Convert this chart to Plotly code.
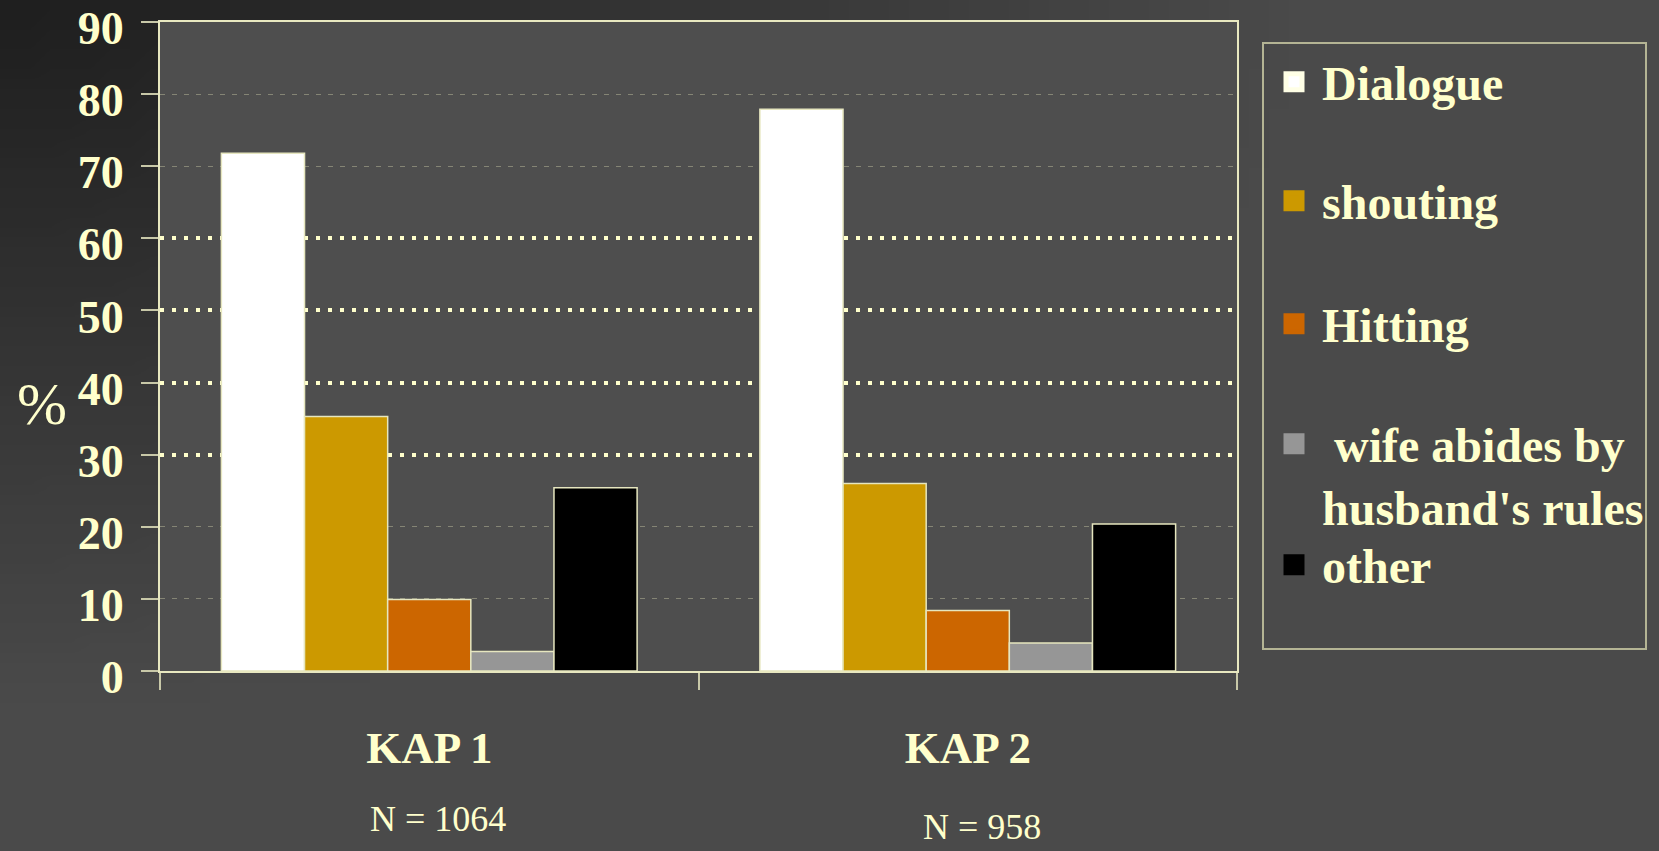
import base64
import struct
import zlib

import plotly.graph_objects as go

# ---------------- data ----------------
categories = ["KAP 1", "KAP 2"]
sample_sizes = ["N = 1064", "N = 958"]
series_names = ["Dialogue", "shouting", "Hitting",
                "\u00a0wife abides by<br>husband's rules", "other"]
dialogue = [71.8, 77.9]
shouting = [35.3, 26.0]
hitting = [9.9, 8.4]
wife_abides = [2.7, 3.9]
other = [25.4, 20.4]
y_ticks = [0, 10, 20, 30, 40, 50, 60, 70, 80, 90]
dotted_grid = [30, 40, 50, 60]
dashed_grid = [10, 20, 70, 80, 90]

series_values = [dialogue, shouting, hitting, wife_abides, other]
fills = ["#ffffff", "#cc9900", "#cc6600", "#969696", "#000000"]
legend_lines = ["#ffffe6", "#cc9900", "#cc6600", "#969696", "#000000"]

SERIF = "Liberation Serif, Times New Roman, serif"
TXT = "#ffffcc"
W, H = 1659, 851
L, R, T, B = 160, 422, 22, 180
PW, PH = W - L - R, H - T - B


def px_x(p):
    return (p - L) / PW


def px_y(p):
    return (H - B - p) / PH


# ------------- background gradient (decorative) -------------
def gradient_png(w, h):
    raw = bytearray()
    for j in range(h):
        raw.append(0)
        for i in range(w):
            x = (i + 0.5) / w * W
            y = (j + 0.5) / h * H
            d = min(1.0, ((x / 1300.0) ** 2 + (y / 700.0) ** 2) ** 0.5)
            v = int(round(30 + 44 * d))
            raw += bytes((v, v, v))

    def chunk(tag, data):
        return (struct.pack(">I", len(data)) + tag + data
                + struct.pack(">I", zlib.crc32(tag + data) & 0xFFFFFFFF))

    png = b"\x89PNG\r\n\x1a\n"
    png += chunk(b"IHDR", struct.pack(">IIBBBBB", w, h, 8, 2, 0, 0, 0))
    png += chunk(b"IDAT", zlib.compress(bytes(raw), 9))
    png += chunk(b"IEND", b"")
    return "data:image/png;base64," + base64.b64encode(png).decode()


fig = go.Figure()

# bars
for name, vals, col in zip(series_names, series_values, fills):
    fig.add_trace(go.Bar(
        x=categories, y=vals, name=name, showlegend=False,
        marker=dict(color=col, line=dict(color="#e6e6bf", width=1.5)),
        hoverinfo="x+y",
    ))

# legend entries (one legend per entry to reproduce the original spacing)
legend_ids = ["legend", "legend2", "legend3", "legend4", "legend5"]
for name, col, lc, lid in zip(series_names, fills, legend_lines, legend_ids):
    fig.add_trace(go.Scatter(
        x=[None], y=[None], mode="markers", name=name, legend=lid,
        marker=dict(symbol="square", size=16, color=col,
                    line=dict(color=lc, width=5)),
        hoverinfo="skip",
    ))

LEG_X = px_x(1266)


def legend_cfg(py, valign="middle"):
    return dict(
        x=LEG_X, y=px_y(py), xanchor="left", yanchor="middle",
        bgcolor="rgba(0,0,0,0)", borderwidth=0, itemwidth=46,
        valign=valign,
        font=dict(family=SERIF, size=48, color=TXT, weight="bold"),
    )


axis_line = "#e8e8c0"
tick_col = "#c8c8a8"

fig.update_layout(
    width=W, height=H, autosize=False,
    margin=dict(l=L, r=R, t=T, b=B, autoexpand=False),
    paper_bgcolor="#4a4a4a",
    plot_bgcolor="rgba(0,0,0,0)",
    barmode="group", bargap=0.228, bargroupgap=0,
    legend=legend_cfg(82),
    legend2=legend_cfg(201),
    legend3=legend_cfg(324),
    legend4=legend_cfg(475, "top"),
    legend5=legend_cfg(565),
    xaxis=dict(
        type="category", tickson="boundaries", ticks="outside",
        ticklen=17, tickwidth=2, tickcolor=tick_col,
        showline=True, linecolor=axis_line, linewidth=2, mirror=True,
        showgrid=False, automargin=False,
        tickfont=dict(family=SERIF, size=45, color=TXT, weight="bold"),
        ticklabelstandoff=36,
    ),
    yaxis=dict(
        range=[0, 90], tickvals=y_ticks, ticks="outside",
        ticklen=17, tickwidth=2, tickcolor=tick_col,
        showline=True, linecolor=axis_line, linewidth=2, mirror=True,
        showgrid=False, zeroline=False, automargin=False,
        tickfont=dict(family=SERIF, size=46, color=TXT, weight="bold"),
        ticklabelstandoff=8, ticklabelshift=6,
        ticklabeloverflow="allow",
    ),
    yaxis2=dict(
        overlaying="y", anchor="x", range=[0, 90], tickvals=dotted_grid,
        showticklabels=False, ticks="", showline=False, zeroline=False,
        showgrid=True, gridcolor=TXT, gridwidth=4, griddash="4px,8px",
    ),
    yaxis3=dict(
        overlaying="y", anchor="x", range=[0, 90], tickvals=dashed_grid,
        showticklabels=False, ticks="", showline=False, zeroline=False,
        showgrid=True, gridcolor="#858575", gridwidth=1, griddash="5px,7px",
    ),
    images=[dict(
        source=gradient_png(83, 43), xref="paper", yref="paper",
        x=px_x(0), y=px_y(0), sizex=W / PW, sizey=H / PH,
        xanchor="left", yanchor="top", sizing="stretch", layer="below",
    )],
    shapes=[
        # plot-area background (drawn over the page gradient, under grid/bars)
        dict(type="rect", xref="paper", yref="paper", x0=0, x1=1, y0=0, y1=1,
             line=dict(width=0), fillcolor="#4e4e4e", layer="below"),
        # legend frame
        dict(type="rect", xref="paper", yref="paper",
             x0=px_x(1263), x1=px_x(1646), y0=px_y(649), y1=px_y(43),
             line=dict(color="#b4b494", width=2), fillcolor="rgba(0,0,0,0)"),
    ],
    annotations=[
        dict(text="%", xref="paper", yref="paper", x=px_x(42), y=px_y(404),
             showarrow=False, xanchor="center", yanchor="middle",
             font=dict(family=SERIF, size=60, color=TXT)),
        dict(text=sample_sizes[0], xref="x", yref="paper", x=categories[0],
             y=px_y(819), xshift=9, showarrow=False, yanchor="middle",
             font=dict(family=SERIF, size=36, color=TXT)),
        dict(text=sample_sizes[1], xref="x", yref="paper", x=categories[1],
             y=px_y(827), xshift=14, showarrow=False, yanchor="middle",
             font=dict(family=SERIF, size=36, color=TXT)),
    ],
)

# attach the grid-only axes to the plot
fig.add_trace(go.Scatter(x=[None], y=[None], yaxis="y2", showlegend=False,
                         hoverinfo="skip"))
fig.add_trace(go.Scatter(x=[None], y=[None], yaxis="y3", showlegend=False,
                         hoverinfo="skip"))

fig.write_html("out.html", config={"displayModeBar": False},
               post_script="document.body.style.margin='0';")
